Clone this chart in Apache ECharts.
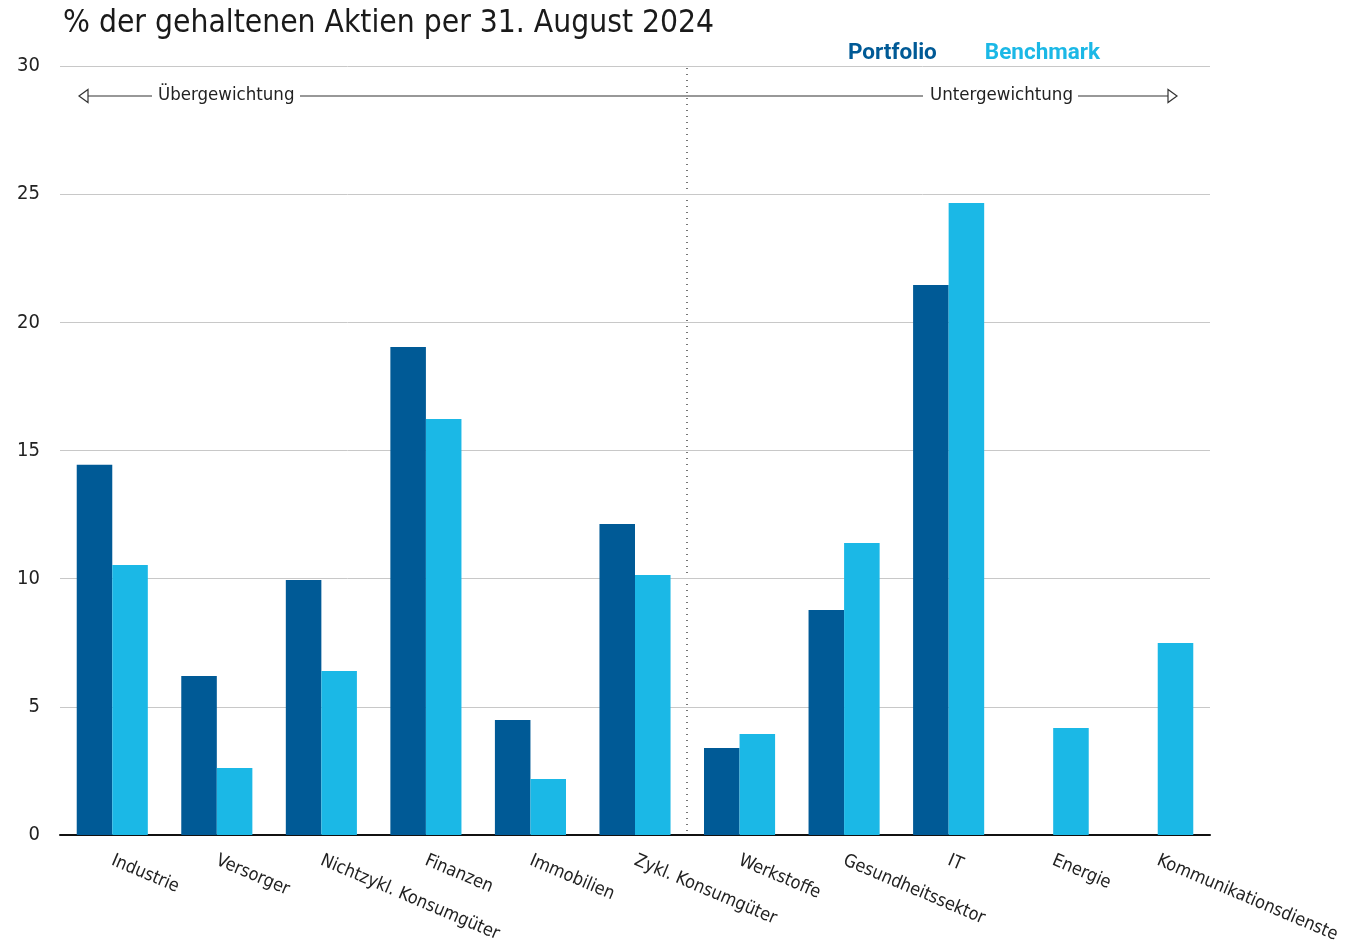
<!DOCTYPE html>
<html><head><meta charset="utf-8">
<script src="https://cdn.jsdelivr.net/npm/echarts@6/dist/echarts.min.js"></script>
<style>html,body{margin:0;padding:0;background:#fff;overflow:hidden}#c{width:1367px;height:945px}</style>
</head><body><div id="c"></div>
<script>
var categories = ["Industrie","Versorger","Nichtzykl. Konsumgüter","Finanzen","Immobilien","Zykl. Konsumgüter","Werkstoffe","Gesundheitssektor","IT","Energie","Kommunikationsdienste"];
var portfolio = [14.44, 6.2, 9.95, 19.04, 4.49, 12.13, 3.39, 8.78, 21.46, 0, 0];
var benchmark = [10.53, 2.61, 6.4, 16.23, 2.18, 10.14, 3.94, 11.39, 24.66, 4.17, 7.49];
var yTicks = [0, 5, 10, 15, 20, 25, 30];

var FONT = '"DejaVu Sans Condensed","Liberation Sans Narrow","Roboto",sans-serif';
var chart = echarts.init(document.getElementById('c'), null, {width: 1367, height: 945});
var gl = 60, gr = 1210, gt = 66, gb = 835;
chart.setOption({
  animation: false,
  textStyle: {fontFamily: FONT},
  title: {text: '% der gehaltenen Aktien per 31. August 2024', left: 58, top: 3,
    textStyle: {fontFamily: FONT, fontWeight: 'normal', fontSize: 31.5, color: '#1a1a1a'}},
  legend: {left: 843, top: 37, itemWidth: 0, itemHeight: 0, itemGap: 48, icon: 'rect',
    selectedMode: false,
    textStyle: {fontFamily: 'Roboto, sans-serif', fontSize: 22.5, fontWeight: 'bold', padding: [0,0,0,-5]},
    data: [{name: 'Portfolio', textStyle: {color: '#005A96'}}, {name: 'Benchmark', textStyle: {color: '#1BB8E6'}}]},
  grid: {left: gl, right: 1367 - gr, top: gt, bottom: 945 - gb, containLabel: false, outerBoundsMode: 'none'},
  xAxis: {type: 'category', data: categories,
    axisLine: {lineStyle: {color: '#111', width: 2}},
    axisTick: {show: false},
    axisLabel: {interval: 0, rotate: -23, margin: 25, fontSize: 18, color: '#222', fontFamily: FONT}},
  yAxis: {type: 'value', min: 0, max: 30, interval: 5,
    axisLine: {show: false}, axisTick: {show: false},
    axisLabel: {margin: 20, fontSize: 20, color: '#222', fontFamily: FONT,
      formatter: function(v){ return yTicks.indexOf(v) >= 0 ? String(v) : ''; }},
    splitLine: {lineStyle: {color: '#c8c8c8', width: 1}}},
  series: [
    {name: 'Portfolio', type: 'bar', data: portfolio, barGap: '0%', barCategoryGap: '32%',
      itemStyle: {color: '#005A96'}},
    {name: 'Benchmark', type: 'bar', data: benchmark, barGap: '0%', barCategoryGap: '32%',
      itemStyle: {color: '#1BB8E6'}}
  ],
  graphic: [
    {type: 'line', shape: {x1: 687, y1: gt + 2, x2: 687, y2: gb - 2}, style: {stroke: '#777', lineWidth: 2, lineDash: [1, 5]}},
    {type: 'line', shape: {x1: 80, y1: 96, x2: 152, y2: 96}, style: {stroke: '#333', lineWidth: 1.2}},
    {type: 'line', shape: {x1: 300, y1: 96, x2: 923, y2: 96}, style: {stroke: '#333', lineWidth: 1.2}},
    {type: 'line', shape: {x1: 1078, y1: 96, x2: 1176, y2: 96}, style: {stroke: '#333', lineWidth: 1.2}},
    {type: 'polygon', shape: {points: [[79, 96], [88, 89.5], [88, 102.5]]}, style: {fill: '#fff', stroke: '#333', lineWidth: 1.2}},
    {type: 'polygon', shape: {points: [[1177, 96], [1168, 89.5], [1168, 102.5]]}, style: {fill: '#fff', stroke: '#333', lineWidth: 1.2}},
    {type: 'text', left: 158, top: 86, style: {text: 'Übergewichtung', font: '18.5px ' + FONT, fill: '#222'}},
    {type: 'text', left: 930, top: 86, style: {text: 'Untergewichtung', font: '18.5px ' + FONT, fill: '#222'}}
  ]
});
</script></body></html>
